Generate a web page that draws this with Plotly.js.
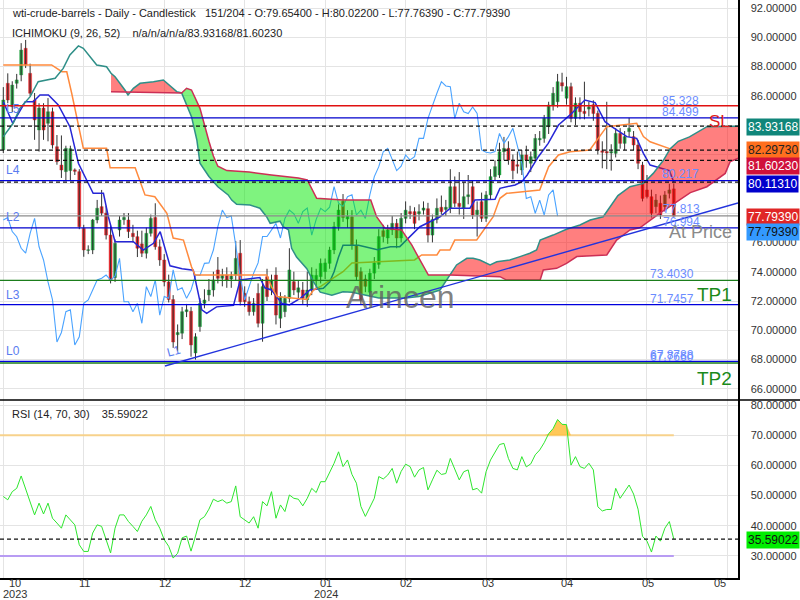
<!DOCTYPE html>
<html><head><meta charset="utf-8">
<script src="https://cdn.plot.ly/plotly-3.0.1.min.js"></script>
<style>html,body{margin:0;padding:0;background:#fff}#chart{width:800px;height:600px}</style>
</head><body><div id="chart"></div>
<script>
// ---------- DATA ----------
const opens = [82.31,86.86,85.26,86.86,87.43,89.25,87.54,85.72,83.67,85.17,
84.13,84.92,82.53,81.28,80.83,80.90,80.95,80.83,76.96,75.45,
75.48,77.53,78.44,78.00,76.50,73.60,76.85,77.55,77.53,76.62,
76.39,75.90,75.26,76.62,77.70,75.70,74.80,73.30,72.10,69.70,
69.80,71.27,71.30,68.45,70.25,71.84,72.41,72.75,74.12,73.55,
73.77,73.50,73.77,75.26,72.52,71.95,71.27,72.52,70.48,73.66,
72.75,73.77,70.82,71.27,72.18,73.32,72.60,72.75,72.07,72.75,
73.45,73.66,74.00,74.57,75.48,77.07,78.80,77.60,77.75,75.80,
74.00,73.50,72.60,73.90,74.50,76.80,76.30,76.85,77.30,76.30,
77.64,78.10,78.10,77.95,78.20,78.30,76.50,77.57,78.40,78.25,
78.33,79.80,78.67,78.33,79.12,79.80,77.90,78.78,77.64,79.24,
80.49,80.60,82.19,82.42,81.62,81.30,80.94,81.97,81.40,81.74,
83.00,83.10,83.90,85.38,85.60,86.90,85.84,86.63,84.47,85.50,
84.95,85.10,85.40,84.81,82.25,82.20,82.10,82.08,83.44,82.76,
83.56,83.22,82.65,81.28,79.58,79.12,78.44,78.67,78.44,79.35,
79.654];
const highs = [86.60,87.54,87.00,87.50,89.60,89.82,88.20,86.20,85.50,85.50,
85.85,85.20,83.33,83.30,82.60,82.60,81.05,81.00,77.20,75.80,
77.60,78.90,79.58,78.50,77.20,76.20,77.80,78.00,78.00,77.20,
76.80,76.80,77.00,77.90,78.67,76.20,75.20,73.80,72.40,70.40,
71.60,71.80,71.60,69.80,72.20,72.80,73.50,74.00,75.00,74.20,
74.30,74.00,76.10,76.16,73.00,72.30,72.20,73.20,73.50,74.20,
73.80,74.30,72.60,72.40,75.60,74.00,73.40,73.30,74.00,74.30,
74.20,74.90,74.90,75.70,77.40,78.60,79.30,78.20,78.20,76.20,
74.30,73.80,74.20,75.00,76.90,77.20,77.20,77.80,77.60,78.00,
78.80,78.50,78.40,78.60,78.80,78.70,77.90,79.00,79.20,78.90,
81.00,80.50,80.80,80.10,80.60,80.20,78.80,79.40,79.50,81.00,
81.60,82.80,83.20,82.90,82.00,82.20,82.30,82.60,82.20,83.40,
83.60,84.70,85.60,86.60,87.50,87.58,87.30,86.90,85.90,85.90,
86.97,85.60,85.70,85.00,82.90,85.60,82.70,83.80,83.80,83.60,
84.50,83.60,83.00,81.50,80.60,79.60,79.30,79.20,79.50,80.00,
80.022];
const lows = [82.10,85.50,84.90,86.50,87.00,87.90,86.00,83.00,82.20,83.00,
82.90,82.40,81.30,80.40,80.20,80.20,80.60,76.90,75.02,75.20,
75.20,77.30,77.80,76.20,73.20,73.30,76.40,77.20,76.30,76.00,
75.00,75.00,74.90,76.40,75.50,74.40,73.00,71.90,68.80,68.60,
69.40,70.90,68.20,68.00,69.90,71.50,72.00,72.30,73.20,73.00,
72.90,72.90,73.40,71.70,71.60,71.00,71.00,70.20,69.22,72.00,
72.40,70.40,70.15,70.90,71.90,72.40,72.20,71.80,71.60,72.40,
72.80,73.20,73.50,74.20,75.20,76.80,77.40,77.00,75.50,73.40,
71.80,72.60,72.30,73.50,74.20,76.00,75.90,76.50,75.60,76.00,
77.30,77.60,76.90,77.50,77.90,76.00,76.00,77.30,77.90,77.80,
78.00,78.40,77.90,77.60,78.60,77.60,76.40,77.40,77.40,78.90,
80.20,80.40,81.60,81.30,80.30,80.70,80.60,81.10,80.80,81.50,
82.60,82.80,83.40,85.00,85.20,86.30,85.40,84.20,84.00,84.40,
84.40,84.60,84.30,82.00,81.06,81.00,80.90,81.80,82.40,82.30,
83.20,82.30,81.00,78.80,79.00,77.70,78.00,77.60,78.10,79.00,
77.7639];
const closes = [85.72,85.72,86.74,87.09,89.13,88.11,86.18,84.36,85.17,83.67,
84.92,82.65,81.51,80.94,82.42,82.40,80.85,77.07,75.48,75.50,
77.53,78.33,78.00,76.50,73.43,75.94,77.53,77.70,76.74,76.39,
75.60,75.26,76.62,77.64,75.70,74.80,73.30,72.10,69.20,69.85,
71.27,71.40,69.00,69.56,71.84,72.07,72.75,73.43,73.55,73.77,
73.43,73.70,74.91,71.95,71.95,71.27,71.84,70.48,72.98,72.30,
73.43,71.04,72.30,72.18,74.12,72.75,72.90,72.18,72.75,73.77,
73.75,74.57,74.60,75.48,77.07,78.21,77.70,77.80,75.80,73.66,
72.07,73.00,73.90,74.60,76.40,76.40,76.85,77.30,76.30,77.64,
78.20,77.95,77.30,78.10,78.35,76.50,77.57,78.33,78.10,78.40,
79.80,78.67,78.45,79.12,79.25,77.87,78.20,77.64,79.24,80.49,
81.17,82.19,82.42,81.62,80.90,81.20,81.97,81.62,81.85,83.10,
83.10,84.47,85.38,86.18,86.97,86.68,86.63,84.47,85.50,84.92,
84.80,85.25,84.80,82.31,82.15,82.10,82.20,83.44,82.76,83.22,
83.79,82.65,81.40,79.00,79.12,77.99,78.89,77.87,79.24,79.58,
77.7939];
const rsiValues = [49.7,48.6,51.3,52.4,56.5,52.4,48.0,43.6,47.5,43.9,
47.5,42.5,40.9,39.2,43.6,42.0,40.3,33.7,31.5,31.5,
37.6,40.3,39.8,35.4,31.0,39.2,43.6,43.6,41.4,39.8,
38.1,41.5,43.6,46.4,42.0,39.2,35.4,33.2,29.3,30.9,
36.0,36.6,31.6,36.6,42.0,43.0,45.5,48.8,48.0,48.6,
47.5,48.0,53.2,43.0,42.0,40.9,43.0,39.2,48.0,46.6,
51.3,42.5,46.9,44.7,50.2,49.1,48.8,46.6,49.1,52.4,
51.0,54.6,54.6,57.5,60.7,64.5,59.6,61.8,57.0,54.1,
46.4,43.1,45.9,49.1,56.3,55.5,56.8,59.0,54.1,58.0,
60.4,59.6,56.1,58.5,59.3,51.9,55.2,58.4,57.0,57.3,
62.3,58.4,55.2,57.9,58.5,51.9,52.4,50.8,57.9,61.8,
64.5,66.9,67.3,62.3,59.0,58.5,62.9,59.5,60.5,63.5,
65.1,67.5,70.5,72.2,75.2,73.6,73.5,60.1,62.9,59.6,
59.0,60.7,58.5,46.3,44.9,45.4,45.4,52.4,49.1,51.5,
53.5,50.5,45.5,36.5,34.9,31.3,36.6,34.9,39.2,41.4,
35.59022];

// Ichimoku lines (bar index, price)
const tenkanIdx = [0,2.1,4.9,6.7,8.2,10.1,12.3,14.9,16.8,20.1,22.4,23.5,25,29.1,31.3,33.6,35.1,37.3,40,42.5,44.4,45.5,47.7,51.5,53,57.4,58.5,60,62.3,64,66.5,68.6,71.6,73,74,75,76,79.5,83.7,86.6,88.7,93.2,97.7,100,104.4,105.5,110,111.1,114.5,116,117.2,119.7,121.9,124.2,126.8,130.1,132.4,134.6,136.1,139.5,141.7,143.2,144.7,146.9,149,150];
const tenkanVal = [85.6,84.13,85.6,85.6,86.06,86.06,85.38,83.9,81.4,79.35,79.35,77.75,76.05,76.05,75.48,75.94,76.73,74.4,74.2,74.1,71.4,71.16,71.6,71.7,73.43,73.6,72.9,72.75,71.84,71.73,72.2,72.75,72.87,73.3,74.0,75.0,75.8,75.8,75.5,75.7,75.71,77.07,77.75,78.33,78.33,78.89,78.94,79.69,79.92,80.14,80.6,81.85,82.76,84.01,84.7,85.72,85.54,84.24,83.9,83.22,83.1,82.08,81.28,81.06,80.9,80.1131];
const kijunIdx = [0,10.8,13.1,14.2,15.3,16.8,17.9,23.1,23.9,29.5,31.7,33.9,36.6,38,40.3,42.1,42.9,58.9,60,61.2,67.9,69.4,71,76,78,92,93.6,97,97.7,99.9,101,105.9,108.1,109.6,111.1,112.6,120,122,124.2,126.8,131.2,135,141.7,143.2,144.7,146.9,150];
const kijunVal = [88.11,88.11,87.65,87.65,86.18,83.9,82.42,82.42,81.1,81.1,79.24,79.12,77.99,76.3,76.16,74.34,73.77,73.77,72.98,72.3,72.1,72.75,73.0,74.0,74.6,74.8,75.14,75.14,75.48,75.48,76.16,76.16,77.07,77.75,79.01,79.35,79.58,81.17,81.97,82.19,82.31,83.9,84.13,83.22,82.87,82.65,82.2973];
const spanAIdx = [0,2.2,3.7,6,7.8,11.6,13.4,14.9,16.8,17.9,20.9,23.1,24.1,25,27.2,27.9,29.1,30.6,33.6,35.8,38.8,39.9,42.1,43.3,44,46,48,50.3,51.1,52.2,55.2,57.4,58.9,59.7,61.9,62.6,63.8,64.5,65.6,67.9,69.4,70.9,73.5,76,78,84,90,93,97.7,99.9,101.4,103.7,105.1,106.6,108.9,110.4,113.3,115.6,117.8,119.3,120.1,123,126,129,131.3,134.2,137.5,140.2,143.2,145.4,147.7,149.2,151,153.5,156,157.4,164.4];
const spanAVal = [83.22,84.13,85.15,85.95,86.97,87.2,87.88,88.79,89.41,89.25,88.11,87.99,87.55,87.31,86.4,86.06,86.52,86.86,86.97,87.09,86.29,86.2,84.58,82.99,81.4,80.5,79.8,79.24,78.89,78.6,78.55,78.33,77.75,77.3,77.45,77.07,76.85,75.6,75.0,74.2,73.3,72.6,72.4,72.63,72.6,72.2,72.2,72.3,72.75,73.77,74.46,74.91,74.91,74.8,74.46,74.68,74.8,75.03,75.26,75.48,76.16,76.5,76.9,77.19,77.53,77.75,79.2,79.8,80.03,80.71,81.62,82.4,82.9,83.2,83.67,83.9,83.93];
const spanBIdx = [24.1,39.9,41,42.1,44,45,46,47,48,50,55,60,66,68,70.1,76,82.2,83.5,85.4,89.1,91.4,93.2,95.1,99.9,111.1,112.6,120.1,120.8,123.8,126,128.3,135,137.2,140.2,142.4,146.9,151.4,153.7,157.4,159.6,161.5,162.6,164.4];
const spanBVal = [86.29,86.2,86.52,86.4,85.15,84.0,82.9,81.9,81.2,80.9,80.8,80.6,80.4,80.26,79.01,78.89,78.89,77.75,76.96,76.85,75.82,74.8,73.77,73.77,73.66,73.43,73.43,74.12,74.23,74.57,75.03,75.14,76.16,76.85,77.0,78.0,78.9,79.4,79.8,80.26,80.71,81.51,81.74];
const chikouShift = 26;

// Levels
const levelValues = [85.328,84.499,80.217,77.813,76.994,73.403,71.7457,67.8788,67.766];
const levelLabels = ["85.328","84.499","80.217","77.813","76.994","73.4030","71.7457","67.8788","67.7660"];
const ichimokuNow = [83.93168,82.2973,81.6023,80.1131];
const trendIdx = [36.17,164.36];
const trendVal = [67.56,78.69];
const priceTicks = [66,68,70,72,74,76,78,80,82,84,86,88,90,92];
const hiddenPriceTicks = [78,80,82,84]; // covered by the value boxes in the reference
const rsiTicks = [30,40,50,60,70,80];
const rsiLevels = [70,30];
const rsiNow = 35.59022;
const monthLabels = ["10","11","12","12","01","02","03","04","05","05"];
const yearLabels = ["2023","","","","2024","","","","",""];
const gridIdx = [0,18,36,54,72,90,108,126,144,162];

// ---------- DRAWING ----------
const FONT = 'Liberation Sans, Arial, sans-serif';
const GREEN = '#24a142', RED = '#e2262a';
const N = closes.length;
const idx = Array.from({length:N},(_,i)=>i);
const XR = [-0.738,164.36];
const PH = 578;
const py = p => (PH - p)/PH;
const px = p => p/800;

const wx=[], wy=[];
for(let i=0;i<N;i++){ wx.push(i,i,null); wy.push(lows[i],highs[i],null); }

function cloudSeg(lo,hi){
  const x=[],y=[];
  spanAIdx.forEach((v,k)=>{ if(v>=lo-1e-9 && v<=hi+1e-9){x.push(v);y.push(spanAVal[k]);} });
  const bx=[],by=[];
  spanBIdx.forEach((v,k)=>{ if(v>=lo-1e-9 && v<=hi+1e-9){bx.push(v);by.push(spanBVal[k]);} });
  return {x:x.concat(bx.reverse()), y:y.concat(by.reverse())};
}
const red1 = cloudSeg(24.1,39.9), grn = cloudSeg(39.9,99.9), red2 = cloudSeg(99.9,164.4);

const ln = (x,y,color,width,ax) => ({type:'scatter',mode:'lines',x,y,line:{color,width},hoverinfo:'skip',xaxis:ax?'x2':'x',yaxis:ax?'y2':'y'});

const traces = [
  {type:'bar', x:idx, base:opens, y:closes.map((c,i)=>c-opens[i]), width:0.68,
   marker:{color:closes.map((c,i)=>c>=opens[i]?GREEN:RED), line:{width:0.4,color:closes.map((c,i)=>c>=opens[i]?GREEN:RED)}}, hoverinfo:'skip'},
  ln(wx,wy,'#333',1),
  ln(idx.slice(0,N-chikouShift), closes.slice(chikouShift), '#4aa3ff',1.1),
  ln(tenkanIdx,tenkanVal,'#2626d6',1.5),
  ln(kijunIdx,kijunVal,'#ff8a3d',1.5),
  {type:'scatter',mode:'lines',x:red1.x,y:red1.y,fill:'toself',fillcolor:'rgba(255,0,0,0.5)',line:{width:0},hoverinfo:'skip'},
  {type:'scatter',mode:'lines',x:grn.x,y:grn.y,fill:'toself',fillcolor:'rgba(0,232,0,0.5)',line:{width:0},hoverinfo:'skip'},
  {type:'scatter',mode:'lines',x:red2.x,y:red2.y,fill:'toself',fillcolor:'rgba(255,0,0,0.5)',line:{width:0},hoverinfo:'skip'},
  ln(spanAIdx,spanAVal,'#2f8f88',1.5),
  ln(spanBIdx,spanBVal,'#cc2f55',1.5),
  // RSI panel
  ln([-0.738,150],[rsiLevels[0],rsiLevels[0]],'#f7d28c',2,true),
  ln([-0.738,150],[rsiLevels[1],rsiLevels[1]],'#b89cf3',2,true),
  {type:'scatter',mode:'lines',x:idx.slice(121,128),y:idx.slice(121,128).map(()=>70),line:{width:0},xaxis:'x2',yaxis:'y2',hoverinfo:'skip'},
  {type:'scatter',mode:'lines',x:idx.slice(121,128),y:rsiValues.slice(121,128).map(v=>Math.max(v,70)),fill:'tonexty',fillcolor:'rgba(255,190,60,0.85)',line:{width:0},xaxis:'x2',yaxis:'y2',hoverinfo:'skip'},
  ln(idx,rsiValues,'#2ee62e',1,true)
];

const shapes = [];
const levelColors = ['#e01010','#0000cc','#0000dd','#8c8c8c','#0000cc','#1b7d1b','#0000dd','#0000dd','#1b7d1b'];
levelValues.forEach((v,k)=>shapes.push({type:'line',xref:'x',yref:'y',x0:XR[0],x1:XR[1],y0:v,y1:v,line:{color:levelColors[k],width:1.3}}));
ichimokuNow.forEach(v=>shapes.push({type:'line',xref:'x',yref:'y',x0:XR[0],x1:XR[1],y0:v,y1:v,line:{color:'#111',width:1.2,dash:'4px,3px'}}));
shapes.push({type:'line',xref:'x',yref:'y',x0:trendIdx[0],x1:trendIdx[1],y0:trendVal[0],y1:trendVal[1],line:{color:'#2233dd',width:1.4}});
shapes.push({type:'line',xref:'x2',yref:'y2',x0:XR[0],x1:XR[1],y0:rsiNow,y1:rsiNow,line:{color:'#111',width:1.2,dash:'4px,3px'}});
shapes.push({type:'line',xref:'paper',yref:'paper',x0:0,x1:1,y0:py(400),y1:py(400),line:{color:'#000',width:1.5}});

const ann = (text,x,y,o={}) => Object.assign({text,xref:'paper',yref:'paper',x:px(x),y:py(y),showarrow:false,
  xanchor:o.xa||'center',yanchor:'middle',font:{family:FONT,size:o.size||11,color:o.color||'#333'}},o.extra||{});

const annotations = [
  ann('wti-crude-barrels - Daily - Candlestick\u00a0\u00a0 151/204 - O:79.65400 - H:80.02200 - L:77.76390 - C:77.79390',10,13,{xa:'left',color:'#222'}),
  ann('ICHIMOKU (9, 26, 52)\u00a0\u00a0\u00a0 n/a/n/a/n/a/83.93168/81.60230',10,33,{xa:'left',color:'#222'}),
  ann('RSI (14, 70, 30)\u00a0\u00a0\u00a0 35.59022',10,414,{xa:'left',color:'#222'}),
  ann('Arincen',400,297,{size:32,color:'rgba(95,95,95,0.8)'}),
  ann('SL',719,121,{size:17,color:'#e01b1b'}),
  ann('TP1',714,295,{size:19,color:'#1a8a1a'}),
  ann('TP2',714,379,{size:19,color:'#1a8a1a'}),
  ann('At Price',700,232,{size:18,color:'#8a8a8a'}),
  ann('L5',13,109,{color:'#5a7cf0',size:12}),
  ann('L4',13,170,{color:'#5a7cf0',size:12}),
  ann('L2',13,217,{color:'#5a7cf0',size:12}),
  ann('L3',13,295,{color:'#5a7cf0',size:12}),
  ann('L0',13,351,{color:'#5a7cf0',size:12}),
  ann('L1',174,351,{color:'#5a7cf0',size:12,extra:{textangle:-15}})
];
const lvlLabelPos = [[680,101],[680,112],[680,174],[681,209],[681,222],[672,274],[672,299],[672,355],[672,357]];
levelLabels.forEach((t,k)=>annotations.push(ann(t,lvlLabelPos[k][0],lvlLabelPos[k][1],{color:'#6b8cff',size:12})));
// value boxes on the price axis
const boxes = [['83.93168',127,'#10867a','#fff'],['82.29730',150,'#ff6f1e','#222'],['81.60230',166,'#d0103a','#fff'],
  ['80.11310',184,'#0000cc','#fff'],['77.79390',217,'#e02626','#fff'],['77.79390',232,'#3399ff','#111']];
boxes.forEach(b=>annotations.push(ann(b[0],746,b[1],{xa:'left',size:12,color:b[3],extra:{bgcolor:b[2],borderpad:1}})));
annotations.push(ann(rsiNow.toFixed(5),746,540,{xa:'left',size:12,color:'#111',extra:{bgcolor:'#00ee00',borderpad:1}}));
// x labels
const labelPx = [15.3,84.3,164.5,245.3,326,406.2,488,567.2,648,719.5];
monthLabels.forEach((t,k)=>{ annotations.push(ann(t,labelPx[k],583)); if(yearLabels[k]) annotations.push(ann(yearLabels[k],labelPx[k],594)); });

const fix = v => v.toFixed(5);
const layout = {
  width:800,height:600,margin:{l:0,r:0,t:0,b:22},paper_bgcolor:'#fff',plot_bgcolor:'#fff',showlegend:false,
  font:{family:FONT,size:11,color:'#333'},barmode:'overlay',
  xaxis:{domain:[0,0.9225],range:XR,anchor:'y',tickvals:gridIdx,showticklabels:false,showgrid:true,gridcolor:'#e4e4e4',zeroline:false,ticks:'',fixedrange:true},
  xaxis2:{domain:[0,0.9225],range:XR,anchor:'y2',tickvals:gridIdx,showticklabels:false,showgrid:true,gridcolor:'#e4e4e4',zeroline:false,ticks:'',showline:true,linecolor:'#000',linewidth:1.5},
  yaxis:{domain:[py(400),1],range:[65.242,92.546],side:'right',anchor:'x',tickvals:priceTicks,
    ticktext:priceTicks.map(v=>hiddenPriceTicks.includes(v)?'':fix(v)),
    showgrid:true,gridcolor:'#e4e4e4',zeroline:false,showline:true,linecolor:'#000',linewidth:1.5,ticks:'',ticklabelstandoff:9,tickfont:{size:11,color:'#333'}},
  yaxis2:{domain:[0,py(400)],range:[22.7,81.66],side:'right',anchor:'x2',tickvals:rsiTicks,ticktext:rsiTicks.map(fix),
    showgrid:true,gridcolor:'#e4e4e4',zeroline:false,showline:true,linecolor:'#000',linewidth:1.5,ticks:'',ticklabelstandoff:9,tickfont:{size:11,color:'#333'}},
  shapes,annotations
};
Plotly.newPlot('chart',traces,layout,{staticPlot:true,displayModeBar:false});
</script></body></html>
